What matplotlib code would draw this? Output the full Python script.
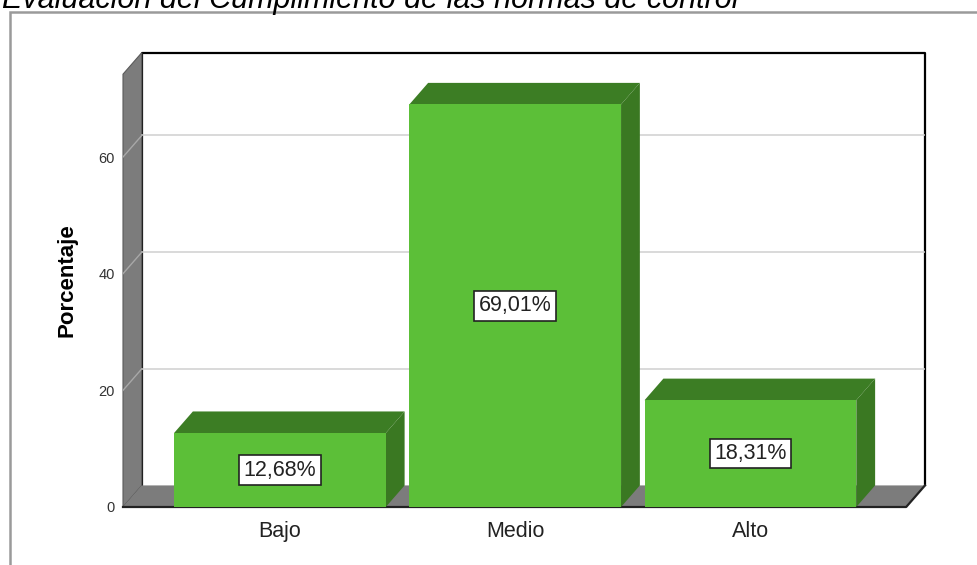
import matplotlib.pyplot as plt
from matplotlib.patches import Polygon, Rectangle

plt.rcParams['font.family'] = ['Liberation Sans', 'DejaVu Sans']

categorias = ['Bajo', 'Medio', 'Alto']
porcentajes = [12.68, 69.01, 18.31]
etiquetas = ['12,68%', '69,01%', '18,31%']
yticks = [0, 20, 40, 60]
titulo = 'Evaluación del Cumplimiento de las normas de control'

verde = '#5cbf38'
verde_osc = '#3c7d24'
gris = '#7c7c7c'

# profundidad del efecto 3D en unidades de datos
DX, DY = 0.08, 3.7
X0, X1 = -0.667, 2.742
YTOP = 77.9
ancho = 0.9

fig = plt.figure(figsize=(9.78, 5.65), dpi=100)
W, H = 978, 565
ax = fig.add_axes([123 / W, 58 / H, 802 / W, YTOP * 5.833 / H])
ax.set_xlim(X0, X1)
ax.set_ylim(0, YTOP)
for s in ax.spines.values():
    s.set_visible(False)

# marco exterior y titulo
fig.add_artist(Rectangle((10 / W, -0.1), 1.2, 1.1 - 12 / H, transform=fig.transFigure,
                         fill=False, ec='#9a9a9a', lw=1.8, clip_on=False))
fig.text(2 / W, 1 - 8 / H, titulo, style='italic', fontsize=22, va='baseline', ha='left')

# pared del fondo
xr = X1
ax.add_patch(Rectangle((X0 + DX, DY), xr - X0 - DX, YTOP - DY, fc='white', ec='none', zorder=0))
ax.plot([X0 + DX, X0 + DX, xr, xr], [DY, YTOP, YTOP, DY], color='black', lw=1.6, zorder=1,
        clip_on=False)
# pared izquierda
ax.add_patch(Polygon([(X0, 0), (X0, YTOP - DY), (X0 + DX, YTOP), (X0 + DX, DY)],
                     closed=True, fc=gris, ec='#5a5a5a', lw=0.8, zorder=1, clip_on=False))
# piso
ax.add_patch(Polygon([(X0, 0), (X0 + DX, DY), (xr, DY), (xr - DX, 0)],
                     closed=True, fc=gris, ec='none', zorder=1, clip_on=False))
ax.plot([X0, xr - DX, xr], [0, 0, DY], color='#222222', lw=1.6, zorder=1, clip_on=False)

# lineas de cuadricula
for v in yticks[1:]:
    ax.plot([X0 + DX, xr], [v + DY, v + DY], color='#cfcfcf', lw=1.1, zorder=1)
    ax.plot([X0, X0 + DX], [v, v + DY], color='#a8a8a8', lw=1.0, zorder=2)

# barras con caras superior y lateral
x = list(range(len(categorias)))
ax.bar(x, porcentajes, width=ancho, color=verde, zorder=4)
for xi, v, lab in zip(x, porcentajes, etiquetas):
    l, r = xi - ancho / 2, xi + ancho / 2
    ax.add_patch(Polygon([(l, v), (l + DX, v + DY), (r + DX, v + DY), (r, v)],
                         closed=True, fc=verde_osc, ec='none', zorder=3))
    ax.add_patch(Polygon([(r, 0), (r, v), (r + DX, v + DY), (r + DX, DY)],
                         closed=True, fc='#3a7822', ec='none', zorder=3))
    ax.text(xi, v / 2, lab, ha='center', va='center', fontsize=15.5, color='#222222', zorder=6,
            bbox=dict(boxstyle='square,pad=0.2', fc='white', ec='#222222', lw=1.2))

ax.set_xticks(x)
ax.set_xticklabels(categorias, fontsize=15.5, color='#222222')
ax.set_yticks(yticks)
ax.set_yticklabels([str(t) for t in yticks], fontsize=10.5, color='#333333')
ax.tick_params(axis='x', length=0, pad=10)
ax.tick_params(axis='y', length=0, pad=6)
ax.set_ylabel('Porcentaje', fontsize=16, fontweight='bold', labelpad=15)

fig.savefig('out.png', dpi=100)
